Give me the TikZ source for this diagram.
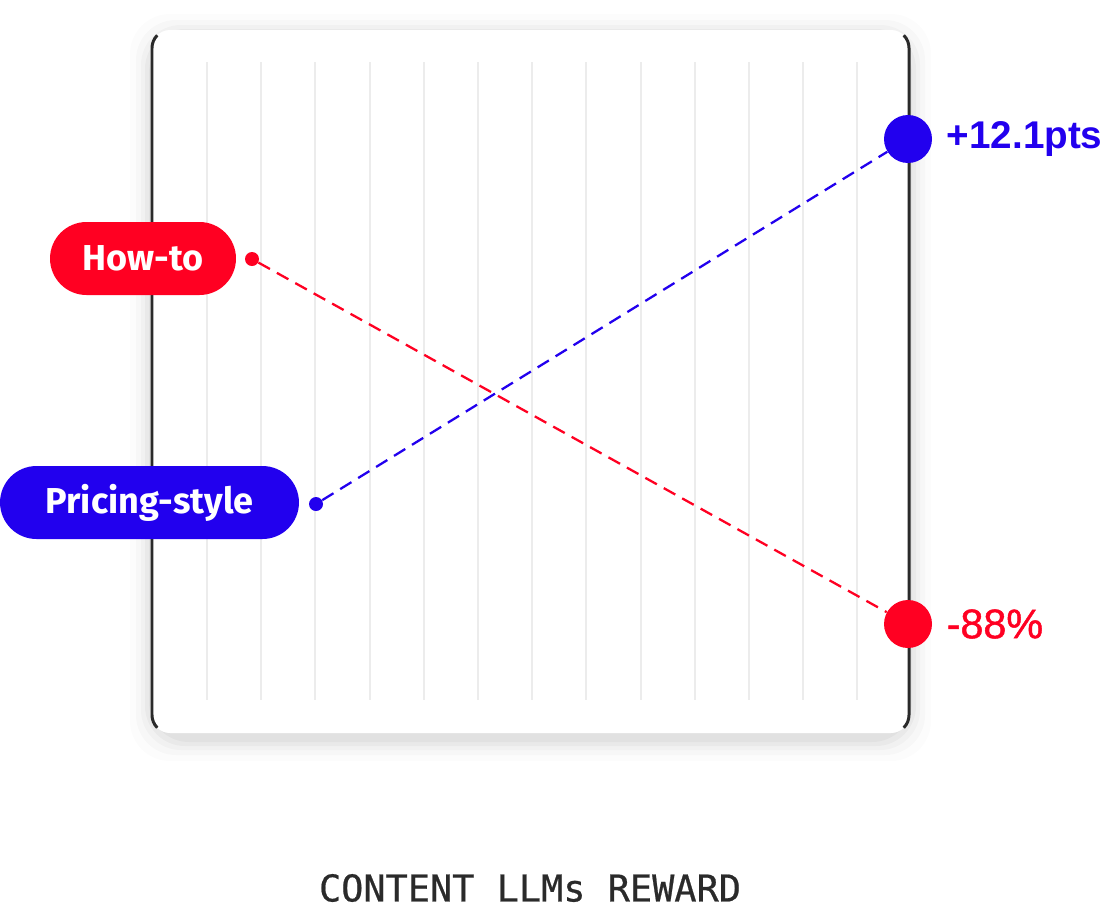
\documentclass[tikz,border=0pt]{standalone}
\usepackage{fontspec}
\setmainfont{Fira Sans}
\newfontfamily\valuefont{Liberation Sans}
\newfontfamily\midvaluefont[FakeBold=1.2]{Liberation Sans}
\setmonofont[FakeBold=0.6]{DejaVu Sans Mono}
\usetikzlibrary{positioning}

\definecolor{hotred}{RGB}{255,0,34}
\definecolor{deepblue}{RGB}{34,0,238}
\definecolor{frame}{RGB}{42,42,42}
\definecolor{gridgray}{RGB}{236,236,236}

\tikzset{
  pill/.style={rectangle, rounded corners=0.73cm, minimum height=1.46cm,
    inner sep=0pt, text=white, font=\bfseries\fontsize{20.5}{24}\selectfont},
  smalldot/.style={circle, inner sep=0pt, minimum size=0.28cm},
  bigdot/.style={circle, inner sep=0pt, minimum size=0.96cm},
  trend/.style={line width=1.3pt, dash pattern=on 7.5pt off 4.5pt},
  value/.style={anchor=west, inner sep=0pt}
}

\begin{document}
\begin{tikzpicture}[x=0.02cm, y=-0.02cm]
        \useasboundingbox (0,0) rectangle (1104,910);

        % soft shadow round the card
        \begin{scope}[black]
            \foreach \d/\o in {22/0.012, 16/0.018, 11/0.025, 7/0.03, 3/0.035}
                \fill[opacity=\o, rounded corners=0.8cm] (152-\d,30-\d+6) rectangle (909+\d,733+\d+6);
        \end{scope}

        % card
        \fill[white, rounded corners=0.36cm] (152,30) rectangle (909,733);
        \foreach \i in {0,...,12}
            \draw[gridgray, line width=1.1pt] (207+54.2*\i,62) -- (207+54.2*\i,700);
        \draw[frame, line width=1.7pt] (157.27,35.27) arc (225:180:18) -- (152,715) arc (180:135:18);
        \draw[frame, line width=1.7pt] (903.73,35.27) arc (-45:0:18) -- (909,715) arc (0:45:18);

        % labels on the left
        \node[pill, fill=hotred, minimum width=3.72cm] (howto) at (143,258.5) {How-to};
        \node[pill, fill=deepblue, minimum width=5.98cm] (pricing) at (149.5,502.5) {Pricing-style};
        \node[smalldot, fill=hotred] (howtostart) at (252,259) {};
        \node[smalldot, fill=deepblue] (pricingstart) at (316,504) {};

        % end points on the right
        \node[bigdot, fill=deepblue] (pricingend) at (908,139) {};
        \node[bigdot, fill=hotred] (howtoend) at (908,624) {};
        \node[value, text=deepblue, font=\valuefont\bfseries\fontsize{22}{24}\selectfont, right=0.28cm of pricingend] (gain) {+12.1pts};
        \node[value, text=hotred, font=\midvaluefont\fontsize{23.5}{26}\selectfont, right=0.28cm of howtoend] (loss) {-88\%};

        \draw[trend, hotred] (howtostart) -- (howtoend);
        \draw[trend, deepblue] (pricingstart) -- (pricingend);

        \node[text=frame, font=\ttfamily\fontsize{21}{24}\selectfont] (caption) at (530,888) {CONTENT LLMs REWARD};
    \end{tikzpicture}
\end{document}
